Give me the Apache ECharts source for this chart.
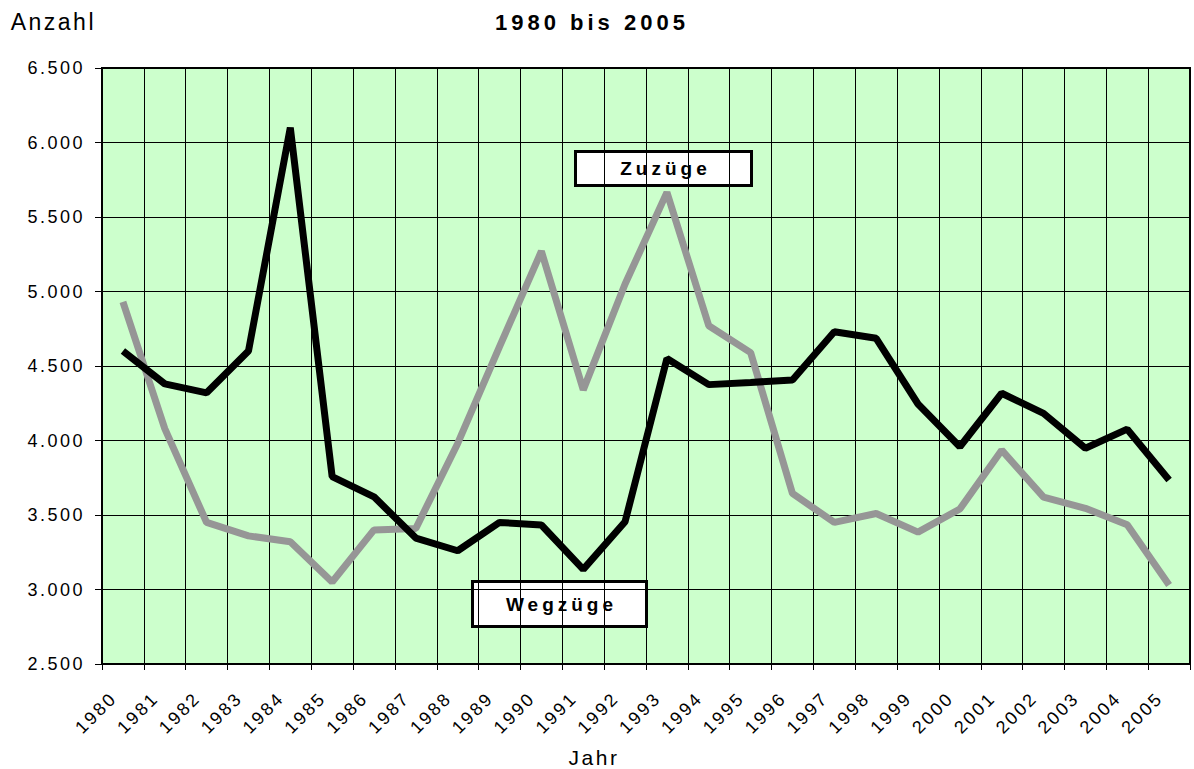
<!DOCTYPE html>
<html>
<head>
<meta charset="utf-8">
<script src="https://cdn.jsdelivr.net/npm/echarts@6/dist/echarts.min.js"></script>
<style>
  html, body { margin: 0; padding: 0; background: #fff; }
  #chart { width: 1194px; height: 769px; }
  #chart text { letter-spacing: 2.5px; }
  #chart text[style*="22px"], #chart text[font-size="22"], #chart text[font-size="22px"] { letter-spacing: 4px; }
  #chart text[style*="19px"], #chart text[font-size="19"], #chart text[font-size="19px"] { letter-spacing: 4px; }
</style>
</head>
<body>
<div id="chart"></div>
<script>
// Jahre 1980 bis 2005
var years = ['1980', '1981', '1982', '1983', '1984', '1985', '1986', '1987', '1988', '1989',
  '1990', '1991', '1992', '1993', '1994', '1995', '1996', '1997', '1998', '1999',
  '2000', '2001', '2002', '2003', '2004', '2005']

// Zuzüge (grau)
var zuzuege = [4930, 4080, 3450, 3360, 3320, 3050, 3400, 3410, 3980, 4630,
  5270, 4340, 5050, 5665, 4770, 4590, 3645, 3450, 3510, 3385,
  3540, 3935, 3620, 3545, 3435, 3030]

// Wegzüge (schwarz)
var wegzuege = [4600, 4380, 4320, 4600, 6100, 3757, 3622, 3345, 3260, 3450,
  3433, 3135, 3455, 4550, 4375, 4390, 4406, 4730, 4686, 4245,
  3958, 4317, 4182, 3948, 4076, 3735]

var yMin = 2500
var yMax = 6500
var yStep = 500

var chart = echarts.init(document.getElementById('chart'), null, { renderer: 'svg' })

var font = 'Liberation Sans, Arial, sans-serif'

chart.setOption({
  animation: false,
  backgroundColor: '#fff',
  textStyle: { fontFamily: font },
  title: {
    text: '1980 bis 2005',
    left: 490,
    top: 6,
    textStyle: { fontSize: 22, fontWeight: 'bold', color: '#000' }
  },
  grid: {
    left: 102,
    right: 4,
    top: 68,
    bottom: 105,
    outerBoundsMode: 'none',
    containLabel: false,
    show: true,
    backgroundColor: '#CCFFCC',
    borderColor: '#000',
    borderWidth: 2
  },
  xAxis: {
    type: 'category',
    data: years,
    boundaryGap: true,
    name: 'Jahr',
    nameLocation: 'middle',
    nameGap: 93,
    nameTextStyle: { fontSize: 21, color: '#000', verticalAlign: 'middle', padding: [0, 104, 0, 0] },
    axisLine: { lineStyle: { color: '#000', width: 2 } },
    axisTick: { show: true, length: 6, lineStyle: { color: '#000' } },
    axisLabel: {
      interval: 0,
      rotate: 45,
      margin: 22,
      padding: [0, 13, 0, 0],
      fontSize: 18,
      color: '#000'
    },
    splitLine: { show: true, lineStyle: { color: '#000', width: 1 } }
  },
  yAxis: {
    type: 'value',
    min: yMin,
    max: yMax,
    interval: yStep,
    name: 'Anzahl',
    nameLocation: 'end',
    nameGap: 46,
    nameTextStyle: { fontSize: 23, color: '#000', align: 'right', verticalAlign: 'middle', padding: [0, 6, 0, 0] },
    axisLine: { show: true, lineStyle: { color: '#000', width: 2 } },
    axisTick: { show: true, length: 7, lineStyle: { color: '#000' } },
    axisLabel: {
      margin: 17,
      fontSize: 18,
      color: '#000',
      formatter: function (v) {
        return String(v).replace(/\B(?=(\d{3})+(?!\d))/g, '.')
      }
    },
    splitLine: { show: true, lineStyle: { color: '#000', width: 1 } }
  },
  series: [{
    name: 'Zuzüge',
    type: 'line',
    data: zuzuege,
    symbol: 'none',
    lineStyle: { color: '#969696', width: 7 }
  }, {
    name: 'Wegzüge',
    type: 'line',
    data: wegzuege,
    symbol: 'none',
    lineStyle: { color: '#000', width: 7 }
  }],
  graphic: [{
    type: 'group',
    left: 574,
    top: 150,
    children: [{
      type: 'rect',
      shape: { x: 0, y: 0, width: 176, height: 34 },
      style: { fill: '#fff', stroke: '#000', lineWidth: 3 }
    }, {
      type: 'text',
      x: 90,
      y: 17,
      style: { text: 'Zuzüge', font: 'bold 19px ' + font, fill: '#000', align: 'center', verticalAlign: 'middle' }
    }]
  }, {
    type: 'group',
    left: 471,
    top: 580,
    children: [{
      type: 'rect',
      shape: { x: 0, y: 0, width: 174, height: 45 },
      style: { fill: '#fff', stroke: '#000', lineWidth: 3 }
    }, {
      type: 'text',
      x: 89,
      y: 23,
      style: { text: 'Wegzüge', font: 'bold 19px ' + font, fill: '#000', align: 'center', verticalAlign: 'middle' }
    }]
  }]
})
</script>
</body>
</html>
